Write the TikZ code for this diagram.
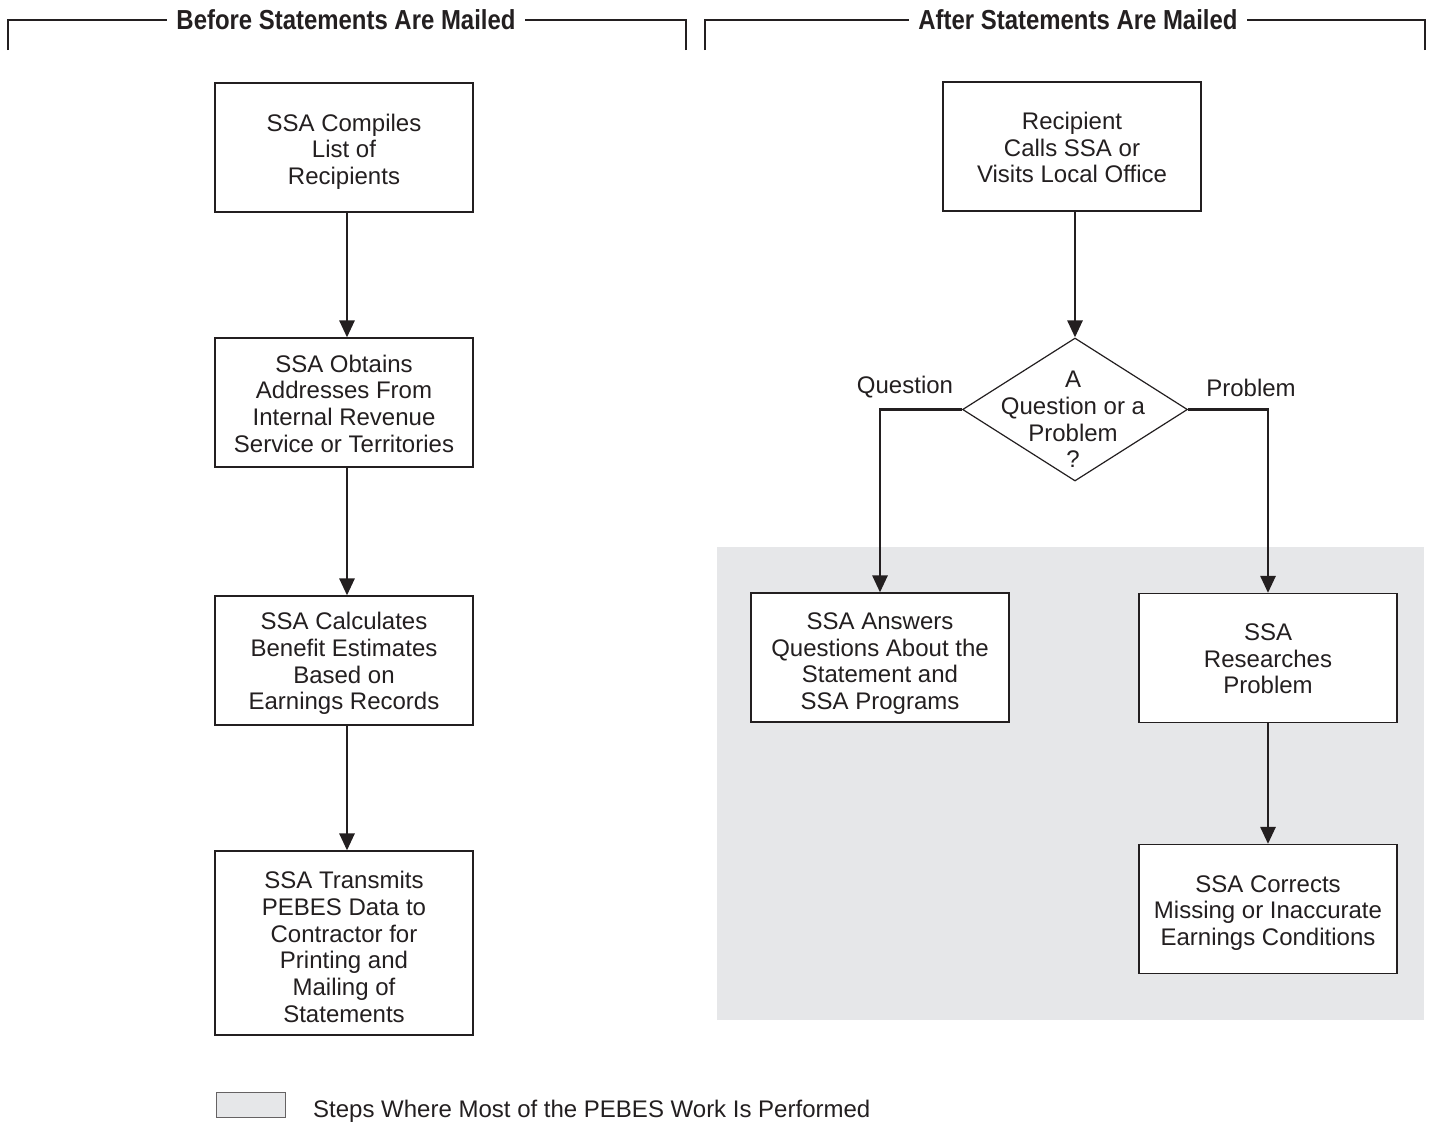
\documentclass[tikz,border=0pt]{standalone}
\usepackage{fontspec}
\setmainfont{Liberation Sans}
\newfontfamily\hdrfont[FakeStretch=0.87]{Liberation Sans Bold}
\usetikzlibrary{arrows.meta,shapes.geometric}
\definecolor{ink}{HTML}{231F20}
\definecolor{shadegray}{HTML}{E6E7E9}
\tikzset{
  stepbox/.style={draw=ink, line width=1.2pt, fill=white, minimum width=258pt, minimum height=129pt, inner sep=0pt},
  boxtext/.style={align=center, text=ink, inner sep=0pt, font=\fontsize{24}{26.7}\selectfont},
  flow/.style={draw=ink, line width=2.8pt, -{Triangle[width=15pt,length=17pt]}},
  hdr/.style={font=\hdrfont\fontsize{27.5}{30}\selectfont, text=ink, inner sep=9pt},
  bracket/.style={draw=ink, line width=2pt},
  lbl/.style={font=\fontsize{24}{26.7}\selectfont, text=ink, inner sep=0pt},
}
\begin{document}
\begin{tikzpicture}[x=1pt,y=-1pt]
\useasboundingbox (0,0) rectangle (1432,1122);
% shaded area
\fill[shadegray] (717,547) rectangle (1424,1020);
% headers
\node[hdr] (h1) at (346,20) {Before Statements Are Mailed};
\node[hdr] (h2) at (1078,20) {After Statements Are Mailed};
\coordinate (h1a) at (8,50);
\coordinate (h1b) at (686,50);
\coordinate (h2a) at (705,50);
\coordinate (h2b) at (1425,50);
\draw[bracket] (h1a) |- (h1.west);
\draw[bracket] (h1b) |- (h1.east);
\draw[bracket] (h2a) |- (h2.west);
\draw[bracket] (h2b) |- (h2.east);
% left column
\node[stepbox, label={[boxtext,yshift=-4pt]center:{SSA Compiles\\List of\\Recipients}}] (b1) at (344,147.5) {};
\node[stepbox, label={[boxtext,yshift=-1pt]center:{SSA Obtains\\Addresses From\\Internal Revenue\\Service or Territories}}] (b2) at (344,402.5) {};
\node[stepbox, label={[boxtext,yshift=-3pt]center:{SSA Calculates\\Benefit Estimates\\Based on\\Earnings Records}}] (b3) at (344,660.5) {};
\node[stepbox, minimum height=184pt, label={[boxtext,yshift=-4pt]center:{SSA Transmits\\PEBES Data to\\Contractor for\\Printing and\\Mailing of\\Statements}}] (b4) at (344,943) {};
\draw[flow] ([xshift=3pt]b1.south) -- ([xshift=3pt]b2.north);
\draw[flow] ([xshift=3pt]b2.south) -- ([xshift=3pt]b3.north);
\draw[flow] ([xshift=3pt]b3.south) -- ([xshift=3pt]b4.north);
% right column
\node[stepbox, label={[boxtext,yshift=-1pt]center:{Recipient\\Calls SSA or\\Visits Local Office}}] (rec) at (1072,146.5) {};
\node[diamond, draw=ink, line width=1.2pt, fill=white, minimum width=225pt, minimum height=143pt, inner sep=0pt, label={[boxtext,yshift=-10pt,xshift=-2pt]center:{A\\Question or a\\Problem\\?}}] (dec) at (1075,409.5) {};
\node[stepbox, label={[boxtext,yshift=-6pt]center:{SSA Answers\\Questions About the\\Statement and\\SSA Programs}}] (ans) at (880,657.5) {};
\node[stepbox, label={[boxtext,yshift=-1pt]center:{SSA\\Researches\\Problem}}] (res) at (1268,658) {};
\node[stepbox, label={[boxtext,yshift=-4pt]center:{SSA Corrects\\Missing or Inaccurate\\Earnings Conditions}}] (cor) at (1268,909) {};
\draw[flow] (rec.south -| dec.north) -- (dec.north);
\draw[flow] (dec.west) -| (ans.north);
\draw[flow] (dec.east) -| (res.north);
\draw[flow] (res) -- (cor);
\node[lbl] (lq) at (905,387) {Question};
\node[lbl] (lp) at (1251,388) {Problem};
% legend
\node[draw=ink!70, line width=0.8pt, fill=shadegray, minimum width=69pt, minimum height=25pt, inner sep=0pt] (leg) at (250.5,1104.5) {};
\node[lbl, anchor=west] (legt) at (313,1111.5) {Steps Where Most of the PEBES Work Is Performed};
\end{tikzpicture}
\end{document}
